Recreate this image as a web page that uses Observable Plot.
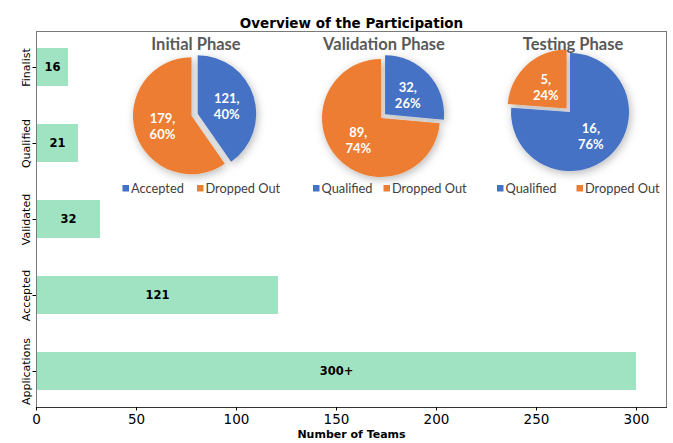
<!DOCTYPE html>
<html><head><meta charset="utf-8">
<script src="https://cdn.jsdelivr.net/npm/d3@7"></script>
<script src="https://cdn.jsdelivr.net/npm/@observablehq/plot@0.6"></script>
<style>html,body{margin:0;padding:0;background:#fff}svg{display:block}</style>
</head><body><div id="chart"></div>
<script>
// ---- data ----
const stages = ["Finalist", "Qualified", "Validated", "Accepted", "Applications"];
const teams = [16, 21, 32, 121, 300];
const barLabels = ["16", "21", "32", "121", "300+"];
const xTicks = [0, 50, 100, 150, 200, 250, 300];

const pieTitles = ["Initial Phase", "Validation Phase", "Testing Phase"];
const pieCategories = [["Accepted", "Dropped Out"], ["Qualified", "Dropped Out"], ["Qualified", "Dropped Out"]];
const pieValues = [[121, 179], [32, 89], [16, 5]];
const piePercents = [["40%", "60%"], ["26%", "74%"], ["76%", "24%"]];
const pieColors = ["#4472C4", "#ED7D31"];

// ---- layout of the inset pies (pixels) ----
const pieLayout = [
  {cx: 191.5, cy: 115.7, r: 58.5, explode: [6.5, 0], titleX: 196, legendX: [122.5, 197]},
  {cx: 381, cy: 118, r: 59, explode: [5.5, 0], titleX: 384, legendX: [313, 383.5]},
  {cx: 569, cy: 111, r: 59, explode: [1.5, 3.5], titleX: 573, legendX: [497, 576.5]}
];

const rows = stages.map((s, i) => ({stage: s, teams: teams[i], label: barLabels[i]}));

function pies(index, scales, values, dims, context) {
  const g = d3.create("svg:g").attr("text-anchor", "start");
  const f = g.append("defs").append("filter").attr("id", "pieShadow")
    .attr("x", "-30%").attr("y", "-30%").attr("width", "160%").attr("height", "160%");
  f.append("feDropShadow").attr("dx", 1.5).attr("dy", 2.5).attr("stdDeviation", 4)
    .attr("flood-color", "#000").attr("flood-opacity", 0.28);
  pieTitles.forEach((title, i) => {
    const L = pieLayout[i];
    const arcs = d3.pie().sort(null)(pieValues[i]);
    const arc = d3.arc().innerRadius(0).outerRadius(L.r);
    const gp = g.append("g");
    const slices = gp.append("g").attr("filter", "url(#pieShadow)");
    arcs.forEach((a, j) => {
      const mid = (a.startAngle + a.endAngle) / 2;
      const ox = L.cx + L.explode[j] * Math.sin(mid);
      const oy = L.cy - L.explode[j] * Math.cos(mid);
      slices.append("path").attr("d", arc(a)).attr("transform", `translate(${ox},${oy})`)
        .attr("fill", pieColors[j]);
      const lr = L.r * 0.52;
      const lx = ox + lr * Math.sin(mid), ly = oy - lr * Math.cos(mid);
      const t = gp.append("text").attr("x", lx).attr("y", ly)
        .attr("text-anchor", "middle").attr("fill", "white")
        .attr("font-family", "Lato").attr("font-weight", "bold").attr("font-size", 13);
      t.append("tspan").attr("x", lx).attr("dy", "-0.15em").text(pieValues[i][j] + ",");
      t.append("tspan").attr("x", lx).attr("dy", "1.25em").text(piePercents[i][j]);
    });
    gp.append("text").attr("x", L.titleX).attr("y", 50).attr("text-anchor", "middle")
      .attr("fill", "#595959").attr("font-family", "Lato").attr("font-weight", "bold")
      .attr("font-size", 16.5).text(title);
    pieCategories[i].forEach((c, j) => {
      const x = L.legendX[j];
      gp.append("rect").attr("x", x).attr("y", 185).attr("width", 6.5).attr("height", 6.5)
        .attr("fill", pieColors[j]);
      gp.append("text").attr("x", x + 8.5).attr("y", 193).attr("text-anchor", "start")
        .attr("fill", "#404040").attr("font-family", "Lato").attr("font-size", 12.8).text(c);
    });
  });
  return g.node();
}

const chart = Plot.plot({
  width: 673, height: 443,
  marginLeft: 36, marginRight: 7, marginTop: 31, marginBottom: 36,
  style: {fontFamily: "DejaVu Sans", background: "white", color: "black"},
  x: {domain: [0, 315]},
  y: {type: "band", domain: stages, range: [48, 390], paddingInner: 0.5, paddingOuter: 0},
  marks: [
    Plot.barX(rows, {x: "teams", y: "stage", fill: "#a0e3c2"}),
    Plot.text(rows, {x: d => d.teams / 2, y: "stage", text: "label", fontWeight: "bold", fontSize: 11.5, fill: "black"}),
    pies,
    Plot.frame({stroke: "#7a7a7a"}),
    Plot.frame({anchor: "bottom", stroke: "#333"}),
    Plot.axisX({ticks: xTicks, tickSize: 3.5, tickPadding: 3, fontSize: 13.5, label: null}),
    Plot.axisY({tickRotate: -90, tickSize: 3.5, tickPadding: 3, fontSize: 11, label: null}),
    Plot.text(["Number of Teams"], {frameAnchor: "bottom", dy: 30, fontWeight: "bold", fontSize: 11}),
    Plot.text(["Overview of the Participation"], {frameAnchor: "top", dy: -13.5, fontWeight: "bold", fontSize: 13.5})
  ]
});
document.getElementById("chart").appendChild(chart);
</script>
</body></html>
